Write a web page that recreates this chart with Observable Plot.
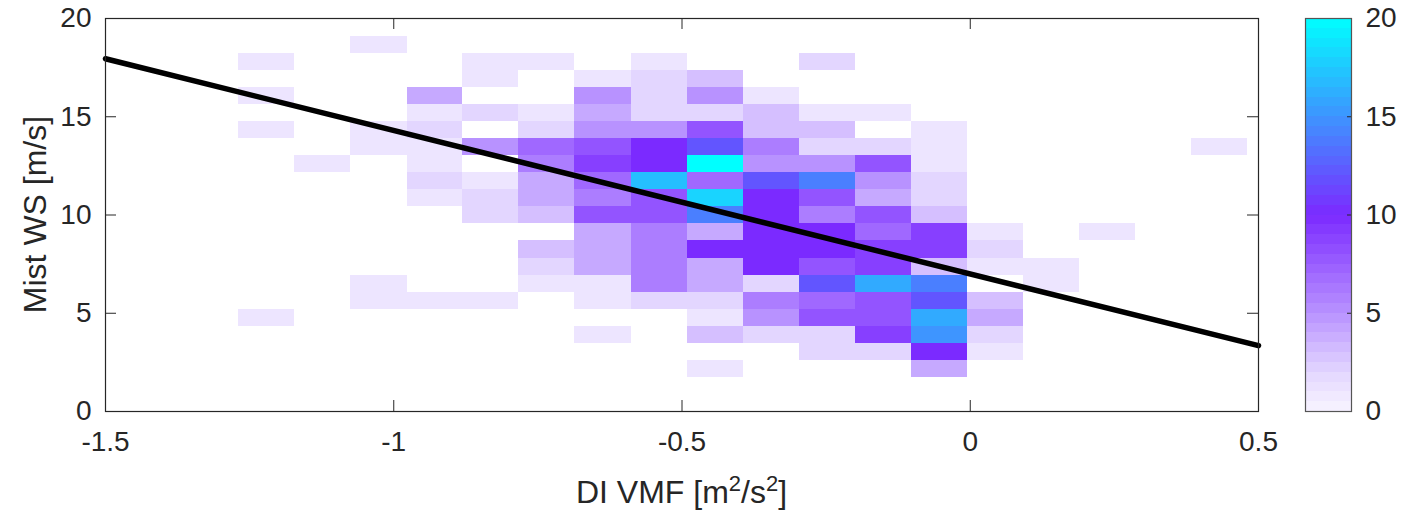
<!DOCTYPE html>
<html><head><meta charset="utf-8">
<script src="https://cdn.jsdelivr.net/npm/d3@7"></script>
<script src="https://cdn.jsdelivr.net/npm/@observablehq/plot@0.6"></script>
<style>
html,body{margin:0;padding:0;background:#fff;}
#wrap{position:relative;width:1420px;height:513px;overflow:hidden;background:#fff;}
#wrap svg{position:absolute;top:0;}
</style></head><body><div id="wrap"></div>
<script>
// bin edges (data units)
const xEdges = [-1.269,-1.172,-1.075,-0.977,-0.880,-0.783,-0.686,-0.588,-0.491,-0.394,-0.297,-0.199,-0.102,-0.005,0.092,0.190,0.287,0.384,0.481];
const yEdges = [0,0.868,1.736,2.603,3.471,4.339,5.207,6.075,6.942,7.810,8.678,9.546,10.414,11.281,12.149,13.017,13.885,14.753,15.620,16.488,17.356,18.224,19.092];
// row index (into yEdges) for each counts row, top to bottom
const rowIndex = [21,20,19,18,17,16,15,14,13,12,11,10,9,8,7,6,5,4,3,2];
const counts = [
  [0,0,1,0,0,0,0,0,0,0,0,0,0,0,0,0,0,0],
  [1,0,0,0,1,1,0,1,0,0,2,0,0,0,0,0,0,0],
  [0,0,0,0,1,0,1,2,3,0,0,0,0,0,0,0,0,0],
  [1,0,0,4,0,0,5,2,5,1,0,0,0,0,0,0,0,0],
  [0,0,0,1,2,1,4,2,2,3,1,1,0,0,0,0,0,0],
  [1,0,1,2,0,2,5,5,8,3,3,0,1,0,0,0,0,0],
  [0,0,1,1,5,7,8,10,12,6,2,2,1,0,0,0,0,1],
  [0,1,0,1,0,6,9,10,20,5,5,8,1,0,0,0,0,0],
  [0,0,0,2,1,4,7,17,7,12,14,5,2,0,0,0,0,0],
  [0,0,0,1,2,4,6,8,18,10,8,4,2,0,0,0,0,0],
  [0,0,0,0,2,3,8,8,14,10,6,8,3,0,0,0,0,0],
  [0,0,0,0,0,0,4,6,4,10,10,7,9,1,0,1,0,0],
  [0,0,0,0,0,3,4,6,10,10,10,9,9,2,0,0,0,0],
  [0,0,0,0,0,2,4,6,4,10,8,9,3,1,1,0,0,0],
  [0,0,1,0,0,1,1,6,4,2,12,16,14,0,1,0,0,0],
  [0,0,1,1,1,0,1,2,2,6,7,8,12,3,0,0,0,0],
  [1,0,0,0,0,0,0,0,1,5,8,8,16,4,0,0,0,0],
  [0,0,0,0,0,0,1,0,3,2,2,9,15,2,0,0,0,0],
  [0,0,0,0,0,0,0,0,0,0,2,2,10,1,0,0,0,0],
  [0,0,0,0,0,0,0,0,1,0,0,0,4,0,0,0,0,0]
];
// regression line end points
const fitX = [-1.5, 0.5];
const fitY = [17.95, 3.35];
// ticks
const xTicks = [-1.5, -1, -0.5, 0, 0.5];
const xTickLabels = ["-1.5", "-1", "-0.5", "0", "0.5"];
const yTicks = [0, 5, 10, 15, 20];
const cTicks = [0, 5, 10, 15, 20];
const colorStops = [0, 2, 5, 10, 20];
const colorRange = ["#f7f4ff", "#e3d6ff", "#b892ff", "#7b2aff", "#00ffff"];

const cells = [];
rowIndex.forEach((k, r) => counts[r].forEach((n, c) => {
  if (n > 0) cells.push({x1: xEdges[c], x2: xEdges[c + 1], y1: yEdges[k], y2: yEdges[k + 1], n});
}));
const fit = fitX.map((x, i) => ({x, y: fitY[i]}));

const ink = "#262626";
const font = "'Liberation Sans', Arial, Helvetica, sans-serif";
const colorOpt = {type: "linear", domain: colorStops, range: colorRange};

const W = 1420, H = 513, mL = 105, mR = 162, mT = 18, mB = 102;
const pw = W - mL - mR, ph = H - mT - mB, tl = 11;

const main = Plot.plot({
  width: W, height: H,
  marginLeft: mL, marginRight: mR, marginTop: mT, marginBottom: mB,
  x: {domain: [-1.5, 0.5]},
  y: {domain: [0, 20]},
  color: colorOpt,
  style: {fontFamily: font, color: ink, background: "white"},
  marks: [
    Plot.rect(cells, {x1: "x1", x2: "x2", y1: "y1", y2: "y2", fill: "n", shapeRendering: "crispEdges"}),
    Plot.line(fit, {x: "x", y: "y", stroke: "black", strokeWidth: 5.5}),
    Plot.tickX(xTicks, {x: d => d, insetTop: ph - tl, stroke: ink}),
    Plot.tickX(xTicks, {x: d => d, insetBottom: ph - tl, stroke: ink}),
    Plot.tickY(yTicks, {y: d => d, insetRight: pw - tl, stroke: ink}),
    Plot.tickY(yTicks, {y: d => d, insetLeft: pw - tl, stroke: ink}),
    Plot.frame({stroke: ink, strokeWidth: 1.2}),
    Plot.axisX(xTicks, {anchor: "bottom", tickSize: 0, tickPadding: 20, fontSize: 28, fill: ink, label: null,
      tickFormat: d => xTickLabels[xTicks.indexOf(d)]}),
    Plot.axisY(yTicks, {anchor: "left", tickSize: 0, tickPadding: 14, fontSize: 28, fill: ink, label: null})
  ]
});
main.style.left = "0px";
document.getElementById("wrap").appendChild(main);

const svg = d3.select(main);
const xl = svg.append("text")
  .attr("x", mL + pw / 2).attr("y", 503)
  .attr("text-anchor", "middle")
  .attr("font-family", font).attr("font-size", 32).attr("fill", ink);
xl.append("tspan").text("DI VMF [m");
xl.append("tspan").attr("dy", -12).attr("font-size", 22).text("2");
xl.append("tspan").attr("dy", 12).text("/s");
xl.append("tspan").attr("dy", -12).attr("font-size", 22).text("2");
xl.append("tspan").attr("dy", 12).text("]");
svg.append("text")
  .attr("transform", `translate(46,${mT + ph / 2}) rotate(-90)`)
  .attr("text-anchor", "middle")
  .attr("font-family", font).attr("font-size", 32).attr("fill", ink)
  .text("Mist WS [m/s]");

// colorbar
const levels = d3.range(0, 20, 0.5);
const cbW = 46, cbL = 15;
const cbar = Plot.plot({
  width: 130, height: H,
  marginLeft: cbL, marginRight: 130 - cbL - cbW, marginTop: mT, marginBottom: mB,
  x: {axis: null},
  y: {domain: [0, 20], axis: null},
  color: colorOpt,
  style: {fontFamily: font, color: ink, background: "transparent"},
  marks: [
    Plot.rect(levels, {y1: d => d, y2: d => d + 0.5, fill: d => d + 0.25, shapeRendering: "crispEdges"}),
    Plot.tickY(cTicks.slice(1, -1), {y: d => d, insetLeft: cbW - 4, stroke: ink}),
    Plot.frame({stroke: "#555", strokeWidth: 1.2}),
    Plot.axisY(cTicks, {anchor: "right", tickSize: 0, tickPadding: 14, fontSize: 28, fill: ink, label: null})
  ]
});
cbar.style.left = "1290px";
document.getElementById("wrap").appendChild(cbar);
</script></body></html>
